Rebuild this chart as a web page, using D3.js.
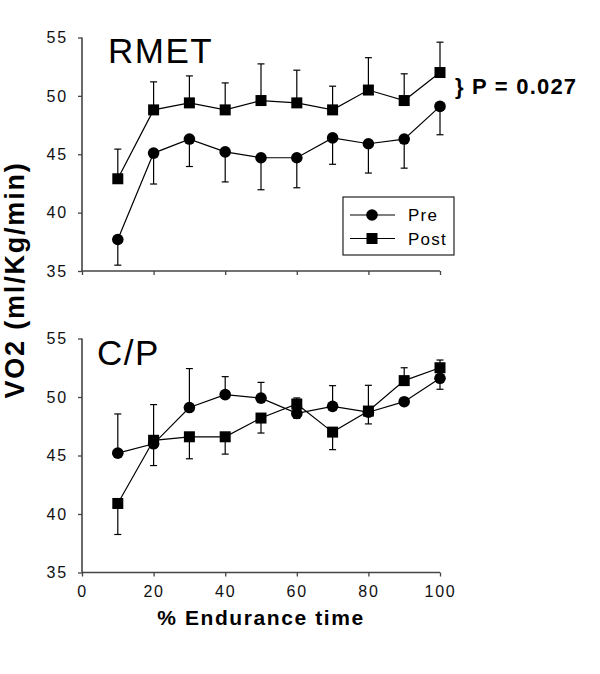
<!DOCTYPE html>
<html>
<head>
<meta charset="utf-8">
<script src="https://cdn.jsdelivr.net/npm/d3@7"></script>
<style>
  html, body { margin: 0; padding: 0; background: #fff; }
  svg { display: block; font-family: "Liberation Sans", Arial, Helvetica, sans-serif; }
</style>
</head>
<body>
<svg id="chart" width="600" height="674"></svg>
<script>
// ---- data ----
const xValues = [10, 20, 30, 40, 50, 60, 70, 80, 90, 100];
const xTicks = [0, 20, 40, 60, 80, 100];
const yTicks = [35, 40, 45, 50, 55];
const seriesNames = ["Pre", "Post"];

const rmetPre     = [37.7, 45.1, 46.3, 45.2, 44.7, 44.7, 46.4, 45.9, 46.3, 49.1];
const rmetPreErr  = [2.2, 2.65, 2.35, 2.57, 2.74, 2.57, 2.26, 2.51, 2.49, 2.43];
const rmetPost    = [42.9, 48.8, 49.4, 48.8, 49.6, 49.4, 48.8, 50.5, 49.6, 52.0];
const rmetPostErr = [2.54, 2.4, 2.31, 2.31, 3.14, 2.8, 2.03, 2.77, 2.29, 2.6];

const cpPre     = [45.2, 46.0, 49.1, 50.2, 49.9, 48.6, 49.2, 48.7, 49.6, 51.6];
const cpPreErr  = [3.35, 1.86, 3.33, 1.54, 1.35, 0.43, 1.77, 1.0, 0.3, 0.94];
const cpPost    = [40.9, 46.3, 46.6, 46.6, 48.2, 49.4, 47.0, 48.8, 51.4, 52.5];
const cpPostErr = [2.65, 3.05, 1.88, 1.48, 1.28, 0.52, 1.5, 2.2, 1.1, 0.66];

const panelTitles = ["RMET", "C/P"];
const pText = "} P = 0.027";
const xTitle = "% Endurance time";
const yTitle = "VO2 (ml/Kg/min)";

// ---- layout ----
const svg = d3.select("#chart");
const x = d3.scaleLinear().domain([0, 100]).range([82, 440]);
const panels = [
  { title: panelTitles[0], pre: rmetPre, preErr: rmetPreErr, post: rmetPost, postErr: rmetPostErr,
    y: d3.scaleLinear().domain([35, 55]).range([271, 37.5]), showXLabels: false,
    titleX: 108, titleY: 63, legend: true },
  { title: panelTitles[1], pre: cpPre, preErr: cpPreErr, post: cpPost, postErr: cpPostErr,
    y: d3.scaleLinear().domain([35, 55]).range([572.5, 338.5]), showXLabels: true,
    titleX: 97, titleY: 365, legend: false }
];

const axisColor = "#444";

function drawMarker(g, type, cx, cy) {
  if (type === "Pre") {
    g.append("circle").attr("cx", cx).attr("cy", cy).attr("r", 5.8).attr("fill", "#000");
  } else {
    g.append("rect").attr("x", cx - 5.5).attr("y", cy - 5.5).attr("width", 11).attr("height", 11).attr("fill", "#000");
  }
}

panels.forEach(p => {
  const g = svg.append("g");
  const y = p.y;

  // axes
  const yAxis = d3.axisLeft(y).tickValues(yTicks).tickSize(4).tickPadding(10).tickFormat(d3.format("d"));
  const yG = g.append("g").attr("transform", `translate(${x(0)},0)`).call(yAxis);
  const xAxis = d3.axisBottom(x).tickValues(xTicks).tickSize(4).tickPadding(9)
    .tickFormat(p.showXLabels ? d3.format("d") : () => "");
  const xG = g.append("g").attr("transform", `translate(0,${y(35)})`).call(xAxis);
  [yG, xG].forEach(a => {
    a.select(".domain").attr("stroke", axisColor).attr("stroke-width", 1.6);
    a.selectAll(".tick line").attr("stroke", axisColor).attr("stroke-width", 1.3);
    a.selectAll(".tick text").attr("fill", "#111").style("font-size", "16px").style("letter-spacing", "1.8px")
      .style("font-family", "'Liberation Sans', Arial, sans-serif");
  });
  yG.select(".domain").attr("d", `M0,${y(55)}V${y(35)}`);
  xG.select(".domain").attr("d", `M${x(0)},0H${x(100)}`);

  // error bars: the higher series at a point gets its bar upward, the lower one downward
  const series = [
    { name: "Pre", vals: p.pre, errs: p.preErr, other: p.post },
    { name: "Post", vals: p.post, errs: p.postErr, other: p.pre }
  ];
  series.forEach(s => {
    xValues.forEach((xv, i) => {
      const up = s.vals[i] >= s.other[i];
      const end = up ? s.vals[i] + s.errs[i] : s.vals[i] - s.errs[i];
      g.append("line").attr("x1", x(xv)).attr("x2", x(xv))
        .attr("y1", y(s.vals[i])).attr("y2", y(end))
        .attr("stroke", "#000").attr("stroke-width", 1.2);
      g.append("line").attr("x1", x(xv) - 3.5).attr("x2", x(xv) + 3.5)
        .attr("y1", y(end)).attr("y2", y(end))
        .attr("stroke", "#000").attr("stroke-width", 1.2);
    });
  });

  // lines
  const line = d3.line().x((d, i) => x(xValues[i])).y(d => y(d));
  series.forEach(s => {
    g.append("path").attr("d", line(s.vals)).attr("fill", "none")
      .attr("stroke", "#000").attr("stroke-width", 1.2);
  });
  // markers
  series.forEach(s => {
    xValues.forEach((xv, i) => drawMarker(g, s.name, x(xv), y(s.vals[i])));
  });

  // panel title
  g.append("text").attr("x", p.titleX).attr("y", p.titleY).text(p.title)
    .style("font-size", "35px").style("letter-spacing", "1.5px").attr("fill", "#000");

  if (p.legend) {
    const lg = g.append("g");
    lg.append("rect").attr("x", 343).attr("y", 197).attr("width", 111).attr("height", 58)
      .attr("fill", "#fff").attr("stroke", "#222").attr("stroke-width", 1.2);
    seriesNames.forEach((name, k) => {
      const ly = 215 + k * 23.5;
      lg.append("line").attr("x1", 350).attr("x2", 395).attr("y1", ly).attr("y2", ly)
        .attr("stroke", "#000").attr("stroke-width", 1.2);
      drawMarker(lg, name, 372, ly);
      lg.append("text").attr("x", 408).attr("y", ly + 6).text(name)
        .style("font-size", "17px").style("letter-spacing", "1.2px").attr("fill", "#000");
    });
  }
});

// P value annotation
svg.append("text").attr("x", 455).attr("y", 94).text(pText)
  .style("font-size", "22px").style("font-weight", "bold").style("letter-spacing", "1.2px").attr("fill", "#000");

// x axis title
svg.append("text").attr("x", (x(0) + x(100)) / 2).attr("y", 625).attr("text-anchor", "middle")
  .text(xTitle).style("font-size", "21px").style("font-weight", "bold").style("letter-spacing", "1.6px");

// y axis title
svg.append("text").attr("transform", "translate(24,280) rotate(-90)").attr("text-anchor", "middle")
  .text(yTitle).style("font-size", "27px").style("font-weight", "bold").style("letter-spacing", "1.8px");
</script>
</body>
</html>
